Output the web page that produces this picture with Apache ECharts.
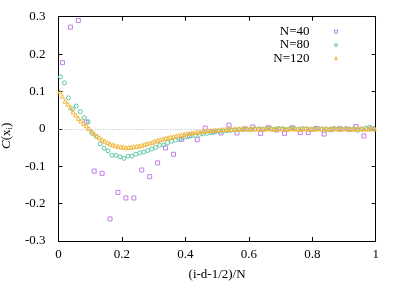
<!DOCTYPE html>
<html><head><meta charset="utf-8">
<script src="https://cdn.jsdelivr.net/npm/echarts@6/dist/echarts.min.js"></script>
<style>html,body{margin:0;padding:0;background:#fff}#c{width:407px;height:285px}</style>
</head><body><div id="c"></div>
<script>
const seriesNames = ['N=40', 'N=80', 'N=120'];
const seriesColors = ['#c27fe6', '#5cc8a2', '#f2b63c'];
const xTicks = [0, 0.2, 0.4, 0.6, 0.8, 1];
const yTicks = [-0.3, -0.2, -0.1, 0, 0.1, 0.2, 0.3];

// C(x_i) values, point k sits at x = (k + 1/2)/N
const n40 = [
  0.177, 0.272, 0.290, 0.018, -0.113, -0.119, -0.241, -0.170, -0.185, -0.185,
  -0.110, -0.128, -0.091, -0.051, -0.068, -0.028, -0.018, -0.029, 0.002, -0.008,
  -0.011, 0.010, -0.011, 0.000, 0.005, -0.012, 0.003, -0.003, -0.012, 0.003,
  -0.010, -0.010, 0.001, -0.014, -0.001, 0.000, -0.001, 0.006, -0.019, 0.000
];
const n80 = [
  0.139, 0.123, 0.083, 0.053, 0.061, 0.046, 0.030, 0.019, -0.012, -0.020,
  -0.040, -0.052, -0.059, -0.071, -0.071, -0.075, -0.079, -0.073, -0.073, -0.068,
  -0.064, -0.062, -0.058, -0.054, -0.050, -0.044, -0.043, -0.037, -0.033, -0.030,
  -0.028, -0.024, -0.021, -0.019, -0.017, -0.015, -0.013, -0.012, -0.010, -0.008,
  -0.007, -0.006, -0.005, -0.004, -0.003, -0.002, -0.002, -0.001, -0.002, -0.001,
  0.000, -0.001, 0.001, 0.000, -0.001, 0.001, 0.000, -0.002, 0.001, 0.000,
  -0.001, 0.001, 0.000, -0.002, 0.000, 0.001, -0.001, 0.000, -0.003, 0.001,
  0.000, -0.001, 0.001, -0.002, 0.000, -0.004, 0.000, 0.002, 0.004, 0.000
];
const n120 = [
  0.099, 0.087, 0.074, 0.066, 0.057, 0.045, 0.037, 0.028, 0.021, 0.014,
  0.008, 0.001, -0.006, -0.013, -0.019, -0.024, -0.029, -0.033, -0.037, -0.040,
  -0.043, -0.045, -0.047, -0.048, -0.049, -0.050, -0.050, -0.049, -0.048, -0.047,
  -0.046, -0.044, -0.042, -0.040, -0.038, -0.036, -0.033, -0.031, -0.029, -0.027,
  -0.025, -0.024, -0.022, -0.021, -0.019, -0.018, -0.016, -0.015, -0.013, -0.012,
  -0.011, -0.010, -0.009, -0.008, -0.007, -0.006, -0.005, -0.004, -0.004, -0.003,
  -0.003, -0.002, -0.002, -0.001, -0.001, -0.001, 0.000, -0.001, 0.000, 0.000,
  0.001, 0.000, -0.001, 0.000, 0.001, 0.000, 0.000, -0.001, 0.000, 0.001,
  0.000, -0.001, 0.000, 0.000, 0.001, 0.000, -0.001, 0.000, 0.001, 0.000,
  0.000, -0.001, 0.000, 0.001, 0.000, 0.000, -0.001, 0.000, 0.000, 0.001,
  0.000, -0.001, 0.000, 0.000, 0.001, 0.000, -0.001, 0.000, 0.001, 0.000,
  0.000, -0.001, 0.000, 0.001, 0.000, -0.001, 0.000, 0.000, 0.001, 0.000
];
const seriesValues = [n40, n80, n120];
const seriesSymbols = ['rect', 'circle', 'triangle'];
const seriesSizes = [4, 4, 4];

const FONT = '"Liberation Serif", "DejaVu Serif", serif';

function toPoints(vals) {
  const N = vals.length;
  return vals.map((v, k) => [(k + 0.5) / N, v]);
}

const baseAxis = {
  type: 'value',
  axisLine: { show: true, onZero: false, lineStyle: { color: '#000', width: 1 } },
  axisTick: { show: true, inside: true, length: 4, lineStyle: { color: '#000', width: 1 } },
  splitLine: { show: false }
};

const chart = echarts.init(document.getElementById('c'), null, { renderer: 'canvas' });
chart.setOption({
  animation: false,
  backgroundColor: '#fff',
  grid: { left: 58.5, right: 31.3, top: 16.7, bottom: 44, containLabel: false, outerBoundsMode: 'none' },
  xAxis: [
    Object.assign({}, baseAxis, {
      position: 'bottom', min: xTicks[0], max: xTicks[xTicks.length - 1], interval: 0.2,
      axisLabel: { fontFamily: FONT, fontSize: 13, color: '#000', margin: 7 },
      name: '(i-d-1/2)/N', nameLocation: 'middle', nameGap: 27,
      nameTextStyle: { fontFamily: FONT, fontSize: 13, color: '#000' }
    }),
    Object.assign({}, baseAxis, {
      position: 'top', min: xTicks[0], max: xTicks[xTicks.length - 1], interval: 0.2,
      axisLabel: { show: false }
    })
  ],
  yAxis: [
    Object.assign({}, baseAxis, {
      position: 'left', min: yTicks[0], max: yTicks[yTicks.length - 1], interval: 0.1,
      axisLabel: { fontFamily: FONT, fontSize: 13, color: '#000', margin: 13 },
      name: '{c|C}({n|x}{s|i})', nameLocation: 'middle', nameGap: 38, nameRotate: 90,
      nameTextStyle: {
        fontFamily: FONT, fontSize: 13, color: '#000', padding: [0, 14, 0, 0],
        rich: {
          c: { fontFamily: FONT, fontSize: 13, fontStyle: 'italic', color: '#000' },
          n: { fontFamily: FONT, fontSize: 13, color: '#000' },
          s: { fontFamily: FONT, fontSize: 9, color: '#000', verticalAlign: 'bottom', padding: [6, 0, 0, 0] }
        }
      }
    }),
    Object.assign({}, baseAxis, {
      position: 'right', min: yTicks[0], max: yTicks[yTicks.length - 1], interval: 0.1,
      axisLabel: { show: false }
    })
  ],
  legend: {
    data: seriesNames.map((name, i) => ({
      name: name,
      icon: seriesSymbols[i],
      itemStyle: { color: 'rgba(0,0,0,0)', borderColor: seriesColors[i], borderWidth: 1 }
    })),
    orient: 'vertical', right: 64, top: 20, align: 'right',
    itemWidth: 3, itemHeight: 3, itemGap: 0,
    textStyle: { fontFamily: FONT, fontSize: 13, color: '#000', lineHeight: 13.3, padding: [0, 20, 0, 0] }
  },
  series: seriesNames.map((name, i) => ({
    name: name,
    type: 'scatter',
    xAxisIndex: 0, yAxisIndex: 0,
    symbol: seriesSymbols[i],
    symbolSize: seriesSizes[i],
    itemStyle: { color: 'rgba(0,0,0,0)', borderColor: seriesColors[i], borderWidth: 1, opacity: 1 },
    data: toPoints(seriesValues[i]),
    z: 2 + i,
    markLine: i === 0 ? {
      silent: true, symbol: ['none', 'none'], label: { show: false },
      lineStyle: { color: '#b4b4b4', type: [1, 2], width: 1 },
      data: [{ yAxis: 0 }]
    } : undefined
  }))
});
</script>
</body></html>
